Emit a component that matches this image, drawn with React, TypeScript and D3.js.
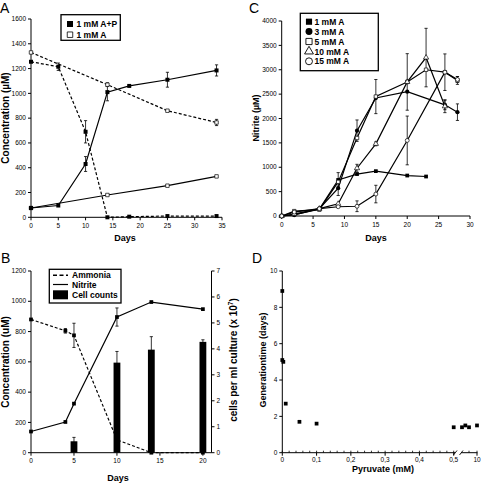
import React from "react";
import * as d3 from "d3";

// ---------- Panel A ----------
const daysAP = [0, 5, 10, 14, 18, 25, 34];
const apNitrite = [75, 95, 430, 1010, 1060, 1110, 1185];
const apNitriteErr = [0, 0, 60, 70, 0, 60, 45];
const apAmmonia = [1255, 1215, 690, 0, 5, 10, 10];
const apAmmoniaErr = [0, 30, 90, 0, 0, 0, 0];
const daysA = [0, 14, 25, 34];
const aNitrite = [75, 180, 255, 330];
const aAmmonia = [1330, 1070, 860, 765];
const aAmmoniaErr = [0, 15, 0, 25];
const ticksAx = [0, 5, 10, 15, 20, 25, 30, 35];
const ticksAy = [0, 200, 400, 600, 800, 1000, 1200, 1400, 1600];

// ---------- Panel B ----------
const daysB = [0, 4, 5, 10, 14, 20];
const ammoniaB = [880, 805, 775, 85, 0, 0];
const ammoniaBErr = [0, 15, 80, 0, 0, 0];
const nitriteB = [140, 203, 324, 896, 995, 948];
const nitriteBErr = [0, 0, 0, 60, 0, 0];
const cellDays = [5, 10, 14, 20];
const cellCounts = [0.44, 3.47, 3.97, 4.27];
const cellErr = [0.15, 0.43, 0.5, 0.08];
const ticksBx = [0, 5, 10, 15, 20];
const ticksBy = [0, 200, 400, 600, 800, 1000, 1200];
const ticksBy2 = [0, 1, 2, 3, 4, 5, 6, 7];

// ---------- Panel C ----------
const c1Days = [0, 2, 6, 9, 12, 15, 20, 23];
const c1Vals = [0, 30, 140, 740, 860, 920, 830, 810];
const c1Err = [0, 0, 0, 150, 0, 0, 0, 0];
const c3Days = [0, 2, 6, 9, 12, 15, 20, 26, 28];
const c3Vals = [0, 20, 150, 570, 1750, 2420, 2550, 2280, 2130];
const c3Err = [0, 0, 0, 150, 220, 0, 0, 100, 170];
const c5Days = [0, 2, 6, 9, 12, 15, 20, 23, 26, 28];
const c5Vals = [0, 100, 130, 700, 1600, 2450, 2750, 3000, 2950, 2780];
const c5Err = [0, 0, 0, 0, 0, 350, 580, 0, 375, 80];
const c10Days = [0, 2, 6, 9, 12, 15, 20, 23, 26];
const c10Vals = [0, 40, 150, 250, 980, 1480, 2750, 3250, 2250];
const c10Err = [0, 0, 0, 0, 80, 40, 0, 600, 130];
const c15Days = [0, 2, 6, 9, 12, 15, 20, 26, 28];
const c15Vals = [0, 80, 150, 190, 200, 450, 1550, 2950, 2800];
const c15Err = [0, 0, 0, 0, 110, 180, 500, 0, 60];
const cLabels = ["1 mM A", "3 mM A", "5 mM A", "10 mM A", "15 mM A"];
const ticksCx = [0, 5, 10, 15, 20, 25, 30];
const ticksCy = [0, 500, 1000, 1500, 2000, 2500, 3000, 3500, 4000];

// ---------- Panel D ----------
const pyruvateLow = [0, 0, 0.003, 0.01, 0.05, 0.1, 0.5];
const genTimeLow = [8.9, 5.1, 5.0, 2.7, 1.7, 1.6, 1.4];
const pyruvateHigh = [1, 3, 5.2, 10];
const genTimeHigh = [1.4, 1.5, 1.4, 1.5];
const ticksDx = [0, 0.1, 0.2, 0.3, 0.4, 0.5];
const ticksDxLabels = ["0", "0,1", "0,2", "0,3", "0,4", "0,5"];
const ticksDy = [0, 2, 4, 6, 8, 10];

const F = "Arial, 'Liberation Sans', Helvetica, sans-serif";
const TICK_FS = 6.5;

const sq = d3.symbol().type(d3.symbolSquare);
const circ = d3.symbol().type(d3.symbolCircle);
const tri = d3.symbol().type(d3.symbolTriangle);

function YAxis({ x, scale, ticks, side = "left", fmt = (d: number) => String(d) }: any) {
  const r = scale.range();
  const dir = side === "left" ? -1 : 1;
  return (
    <g>
      <line x1={x} x2={x} y1={r[0]} y2={r[1]} stroke="#000" strokeWidth={1} />
      {ticks.map((t: number) => (
        <g key={t}>
          <line x1={x} x2={x + dir * 3} y1={scale(t)} y2={scale(t)} stroke="#000" strokeWidth={1} />
          <text
            x={x + dir * 5}
            y={scale(t) + 2.2}
            fontSize={TICK_FS}
            fontFamily={F}
            textAnchor={side === "left" ? "end" : "start"}
          >
            {fmt(t)}
          </text>
        </g>
      ))}
    </g>
  );
}

function XAxis({ y, scale, ticks, labels }: any) {
  const r = scale.range();
  return (
    <g>
      <line x1={r[0]} x2={r[1]} y1={y} y2={y} stroke="#000" strokeWidth={1} />
      {ticks.map((t: number, i: number) => (
        <g key={t}>
          <line x1={scale(t)} x2={scale(t)} y1={y} y2={y + 3} stroke="#000" strokeWidth={1} />
          <text x={scale(t)} y={y + 10.5} fontSize={TICK_FS} fontFamily={F} textAnchor="middle">
            {labels ? labels[i] : String(t)}
          </text>
        </g>
      ))}
    </g>
  );
}

function ErrBars({ xs, ys, es, x, y, w = 1.6 }: any) {
  return (
    <g stroke="#000" strokeWidth={0.8}>
      {xs.map((d: number, i: number) =>
        es[i] > 0 ? (
          <g key={i}>
            <line x1={x(d)} x2={x(d)} y1={y(ys[i] - es[i])} y2={y(ys[i] + es[i])} />
            <line x1={x(d) - w} x2={x(d) + w} y1={y(ys[i] - es[i])} y2={y(ys[i] - es[i])} />
            <line x1={x(d) - w} x2={x(d) + w} y1={y(ys[i] + es[i])} y2={y(ys[i] + es[i])} />
          </g>
        ) : null
      )}
    </g>
  );
}

function Series({ xs, ys, x, y, dash, marker, size = 14, fill = "#000", lw = 1.2 }: any) {
  const pts: [number, number][] = xs.map((d: number, i: number) => [x(d), y(ys[i])]);
  const line = d3.line();
  return (
    <g>
      <path d={line(pts) || ""} fill="none" stroke="#000" strokeWidth={lw} strokeDasharray={dash} />
      {pts.map((p, i) => (
        <path
          key={i}
          d={marker.size(size)() || ""}
          transform={`translate(${p[0]},${p[1]})`}
          fill={fill}
          stroke="#000"
          strokeWidth={fill === "#000" ? 0 : 0.7}
        />
      ))}
    </g>
  );
}

export default function App() {
  // Panel A scales
  const xA = d3.scaleLinear().domain([0, 35]).range([31, 222]);
  const yA = d3.scaleLinear().domain([0, 1600]).range([217.3, 19]);
  // Panel B
  const xB = d3.scaleLinear().domain([0, 21]).range([31, 211.5]);
  const yB = d3.scaleLinear().domain([0, 1200]).range([452.7, 271]);
  const yB2 = d3.scaleLinear().domain([0, 7]).range([452.7, 271]);
  // Panel C
  const xC = d3.scaleLinear().domain([0, 30]).range([281.7, 470]);
  const yC = d3.scaleLinear().domain([0, 4000]).range([216, 21]);
  // Panel D
  const xD1 = d3.scaleLinear().domain([0, 0.5]).range([282.3, 453.7]);
  const xD2 = d3.scaleLinear().domain([1, 10]).range([462, 477]);
  const yD = d3.scaleLinear().domain([0, 10]).range([452.7, 271]);

  const dash = "3,2";
  const cSeries = [
    { d: c1Days, v: c1Vals, e: c1Err, m: sq, fill: "#000", size: 14 },
    { d: c3Days, v: c3Vals, e: c3Err, m: circ, fill: "#000", size: 14 },
    { d: c5Days, v: c5Vals, e: c5Err, m: sq, fill: "#fff", size: 12 },
    { d: c10Days, v: c10Vals, e: c10Err, m: tri, fill: "#fff", size: 12 },
    { d: c15Days, v: c15Vals, e: c15Err, m: circ, fill: "#fff", size: 12 },
  ];

  const minorD = d3.range(0, 0.5001, 0.02);

  return (
    <svg width={482} height={483} style={{ position: "absolute", left: 0, top: 0 }} fontFamily={F}>
      <rect width={482} height={483} fill="#fff" />

      {/* ===== Panel A ===== */}
      <text x={0} y={13} fontSize={14} fontFamily={F}>A</text>
      <YAxis x={31} scale={yA} ticks={ticksAy} />
      <XAxis y={217.3} scale={xA} ticks={ticksAx} />
      <text transform="translate(9,118) rotate(-90)" fontSize={10} fontWeight="bold" textAnchor="middle">
        Concentration (µM)
      </text>
      <text x={125} y={241} fontSize={9} fontWeight="bold" textAnchor="middle">Days</text>
      <ErrBars xs={daysAP} ys={apNitrite} es={apNitriteErr} x={xA} y={yA} />
      <ErrBars xs={daysAP} ys={apAmmonia} es={apAmmoniaErr} x={xA} y={yA} />
      <ErrBars xs={daysA} ys={aAmmonia} es={aAmmoniaErr} x={xA} y={yA} />
      <Series xs={daysA} ys={aNitrite} x={xA} y={yA} marker={sq} fill="#fff" size={12} />
      <Series xs={daysA} ys={aAmmonia} x={xA} y={yA} marker={sq} fill="#fff" size={12} dash={dash} />
      <Series xs={daysAP} ys={apAmmonia} x={xA} y={yA} marker={sq} size={16} dash={dash} />
      <Series xs={daysAP} ys={apNitrite} x={xA} y={yA} marker={sq} size={16} />
      {/* legend A */}
      <rect x={61} y={14.7} width={59.3} height={25.6} fill="#fff" stroke="#000" strokeWidth={1.3} />
      <path d={sq.size(36)() || ""} transform="translate(70,24)" fill="#000" />
      <text x={76.5} y={27} fontSize={8.5} fontWeight="bold">1 mM A+P</text>
      <path d={sq.size(30)() || ""} transform="translate(70,34.7)" fill="#fff" stroke="#000" strokeWidth={0.8} />
      <text x={76.5} y={37.7} fontSize={8.5} fontWeight="bold">1 mM A</text>

      {/* ===== Panel C ===== */}
      <text x={249} y={13} fontSize={14} fontFamily={F}>C</text>
      <YAxis x={281.7} scale={yC} ticks={ticksCy} />
      <XAxis y={216} scale={xC} ticks={ticksCx} />
      <text transform="translate(259,118) rotate(-90)" fontSize={9} fontWeight="bold" textAnchor="middle">
        Nitrite (µM)
      </text>
      <text x={376} y={241} fontSize={9} fontWeight="bold" textAnchor="middle">Days</text>
      {cSeries.map((s, i) => (
        <ErrBars key={"e" + i} xs={s.d} ys={s.v} es={s.e} x={xC} y={yC} />
      ))}
      {cSeries.map((s, i) => (
        <Series key={"s" + i} xs={s.d} ys={s.v} x={xC} y={yC} marker={s.m} fill={s.fill} size={s.size} />
      ))}
      {/* legend C */}
      <rect x={300.3} y={13.3} width={78} height={57.4} fill="#fff" stroke="#000" strokeWidth={1.3} />
      {cSeries.map((s, i) => (
        <g key={"l" + i}>
          <path
            d={s.m.size(s.m === tri ? 34 : 38)() || ""}
            transform={`translate(309,${21.7 + i * 9.9})`}
            fill={s.fill}
            stroke="#000"
            strokeWidth={s.fill === "#000" ? 0 : 0.9}
          />
          <text x={314.5} y={24.8 + i * 9.9} fontSize={8.5} fontWeight="bold">{cLabels[i]}</text>
        </g>
      ))}

      {/* ===== Panel B ===== */}
      <text x={1} y={263} fontSize={14} fontFamily={F}>B</text>
      <YAxis x={31} scale={yB} ticks={ticksBy} />
      <YAxis x={211.5} scale={yB2} ticks={ticksBy2} side="right" />
      <XAxis y={452.7} scale={xB} ticks={ticksBx} />
      <text transform="translate(9,362) rotate(-90)" fontSize={10} fontWeight="bold" textAnchor="middle">
        Concentration (uM)
      </text>
      <text transform="translate(237,360) rotate(-90)" fontSize={10} fontWeight="bold" textAnchor="middle">
        cells per ml culture (x 10<tspan fontSize={6.5} dy={-4}>7</tspan><tspan dy={4}>)</tspan>
      </text>
      <text x={118} y={480.5} fontSize={9} fontWeight="bold" textAnchor="middle">Days</text>
      {cellDays.map((d, i) => (
        <rect
          key={"b" + i}
          x={xB(d) - 3.4}
          y={yB2(cellCounts[i])}
          width={6.8}
          height={yB2(0) - yB2(cellCounts[i])}
          fill="#000"
        />
      ))}
      <ErrBars xs={cellDays} ys={cellCounts} es={cellErr} x={xB} y={yB2} />
      <ErrBars xs={daysB} ys={ammoniaB} es={ammoniaBErr} x={xB} y={yB} />
      <ErrBars xs={daysB} ys={nitriteB} es={nitriteBErr} x={xB} y={yB} />
      <Series xs={daysB} ys={ammoniaB} x={xB} y={yB} marker={sq} size={14} dash={dash} />
      <Series xs={daysB} ys={nitriteB} x={xB} y={yB} marker={sq} size={14} />
      {/* legend B */}
      <rect x={49.3} y={269.3} width={71.7} height={33.7} fill="#fff" stroke="#000" strokeWidth={1.3} />
      <line x1={53} x2={68} y1={275.3} y2={275.3} stroke="#000" strokeWidth={1.6} strokeDasharray="4,2.5" />
      <text x={72} y={278.3} fontSize={8.5} fontWeight="bold">Ammonia</text>
      <line x1={53} x2={68} y1={284.5} y2={284.5} stroke="#000" strokeWidth={1.2} />
      <text x={72} y={287.5} fontSize={8.5} fontWeight="bold">Nitrite</text>
      <rect x={53} y={290.3} width={15} height={9} fill="#000" />
      <text x={72} y={297.5} fontSize={8.5} fontWeight="bold">Cell counts</text>

      {/* ===== Panel D ===== */}
      <text x={252} y={263} fontSize={14} fontFamily={F}>D</text>
      <YAxis x={282.3} scale={yD} ticks={ticksDy} />
      <line x1={282.3} x2={455} y1={452.7} y2={452.7} stroke="#000" strokeWidth={1} />
      <line x1={461} x2={477.5} y1={452.7} y2={452.7} stroke="#000" strokeWidth={1} />
      <line x1={453.5} x2={457} y1={455} y2={450.5} stroke="#000" strokeWidth={0.9} />
      <line x1={459.5} x2={463} y1={455} y2={450.5} stroke="#000" strokeWidth={0.9} />
      {minorD.map((t, i) => (
        <line key={"m" + i} x1={xD1(t)} x2={xD1(t)} y1={452.7} y2={450.7} stroke="#000" strokeWidth={0.8} />
      ))}
      {ticksDx.map((t, i) => (
        <g key={"dx" + i}>
          <line x1={xD1(t)} x2={xD1(t)} y1={452.7} y2={455.7} stroke="#000" strokeWidth={1} />
          <text x={xD1(t)} y={462.3} fontSize={TICK_FS} textAnchor="middle">{ticksDxLabels[i]}</text>
        </g>
      ))}
      {[5.2, 10].map((t) => (
        <line key={"dh" + t} x1={xD2(t)} x2={xD2(t)} y1={452.7} y2={450.7} stroke="#000" strokeWidth={0.8} />
      ))}
      <line x1={xD2(10)} x2={xD2(10)} y1={452.7} y2={455.7} stroke="#000" strokeWidth={1} />
      <text x={xD2(10)} y={462.3} fontSize={TICK_FS} textAnchor="middle">10</text>
      <text transform="translate(266,360) rotate(-90)" fontSize={9} fontWeight="bold" textAnchor="middle">
        Generationtime (days)
      </text>
      <text x={383} y={472} fontSize={9} fontWeight="bold" textAnchor="middle">Pyruvate (mM)</text>
      {pyruvateLow.map((p, i) => (
        <path key={"dl" + i} d={sq.size(14)() || ""} transform={`translate(${xD1(p)},${yD(genTimeLow[i])})`} fill="#000" />
      ))}
      {pyruvateHigh.map((p, i) => (
        <path key={"dhp" + i} d={sq.size(14)() || ""} transform={`translate(${xD2(p)},${yD(genTimeHigh[i])})`} fill="#000" />
      ))}
    </svg>
  );
}
